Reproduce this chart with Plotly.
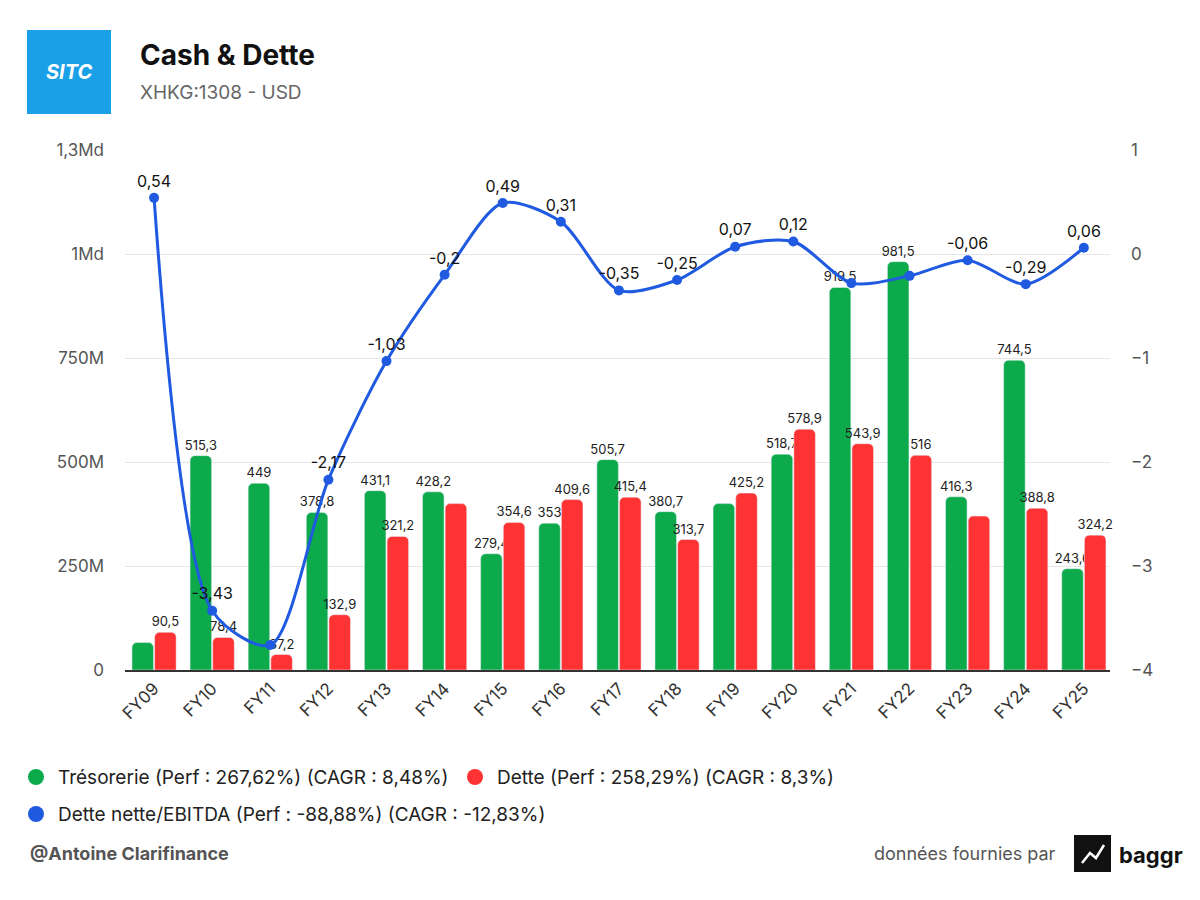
import plotly.graph_objects as go

years = ["FY09", "FY10", "FY11", "FY12", "FY13", "FY14", "FY15", "FY16", "FY17",
         "FY18", "FY19", "FY20", "FY21", "FY22", "FY23", "FY24", "FY25"]
tresorerie = [66, 515.3, 449, 378.8, 431.1, 428.2, 279.4, 353, 505.7,
              380.7, 400, 518.7, 919.5, 981.5, 416.3, 744.5, 243.6]
tres_labels = ["", "515,3", "449", "378,8", "431,1", "428,2", "279,4", "353", "505,7",
               "380,7", "", "518,7", "919,5", "981,5", "416,3", "744,5", "243,6"]
dette = [90.5, 78.4, 37.2, 132.9, 321.2, 400, 354.6, 409.6, 415.4,
         313.7, 425.2, 578.9, 543.9, 516, 370, 388.8, 324.2]
dette_labels = ["90,5", "78,4", "37,2", "132,9", "321,2", "", "354,6", "409,6", "415,4",
                "313,7", "425,2", "578,9", "543,9", "516", "", "388,8", "324,2"]
ratio = [0.54, -3.43, -3.76, -2.17, -1.03, -0.2, 0.49, 0.31, -0.35,
         -0.25, 0.07, 0.12, -0.28, -0.21, -0.06, -0.29, 0.06]
ratio_labels = ["0,54", "-3,43", "", "-2,17", "-1,03", "-0,2", "0,49", "0,31", "-0,35",
                "-0,25", "0,07", "0,12", "", "", "-0,06", "-0,29", "0,06"]
left_ticks = [0, 250, 500, 750, 1000, 1250]
left_tick_text = ["0", "250M", "500M", "750M", "1Md", "1,3Md"]
right_ticks = [-4, -3, -2, -1, 0, 1]
legend_items = [("Trésorerie (Perf : 267,62%) (CAGR : 8,48%)", 28, 777),
                ("Dette (Perf : 258,29%) (CAGR : 8,3%)", 467, 777),
                ("Dette nette/EBITDA (Perf : -88,88%) (CAGR : -12,83%)", 28, 814)]

green = "#0daa4c"
red = "#ff3333"
blue = "#1f5ae0"
font = "Inter"

# plot area in target pixels; page is drawn with an 8px offset
OFF = 8
L, R, T, B = 125, 1110, 150, 670


def px(x):
    return (x - L) / (R - L)


def py(y):
    return (B - y) / (B - T)


def note(x, y, text, size, color, xanchor="left"):
    fig.add_annotation(xref="paper", yref="paper", x=px(x), y=py(y), text=text,
                       showarrow=False, xanchor=xanchor, yanchor="middle",
                       font=dict(size=size, color=color))


fig = go.Figure()
fig.add_trace(go.Bar(x=years, y=tresorerie, text=tres_labels, textposition="outside",
                     marker_color=green, cliponaxis=False, constraintext="none",
                     textfont=dict(size=13, color="#222")))
fig.add_trace(go.Bar(x=years, y=dette, text=dette_labels, textposition="outside",
                     marker_color=red, cliponaxis=False, constraintext="none",
                     textfont=dict(size=13, color="#222")))
fig.add_trace(go.Scatter(x=years, y=ratio, yaxis="y2", mode="lines+markers+text",
                         line=dict(color=blue, width=3, shape="spline", smoothing=0.8),
                         marker=dict(size=10, color=blue), text=ratio_labels,
                         textposition="top center", textfont=dict(size=16, color="#111"),
                         cliponaxis=False))

fig.update_layout(
    width=1200, height=900, plot_bgcolor="white", paper_bgcolor="white",
    font=dict(family=font, size=15, color="#333"), showlegend=False,
    margin=dict(l=L - OFF, r=1200 - R + OFF, t=T - OFF, b=900 - B + OFF, autoexpand=False),
    bargap=0.22, bargroupgap=0.05, barcornerradius=5,
    xaxis=dict(range=[-0.5, 16.45], tickangle=-45, showgrid=False, showline=True,
               linecolor="#333", linewidth=2, ticks="", automargin=False,
               tickfont=dict(size=17, color="#333")),
    yaxis=dict(range=[0, 1250], tickvals=left_ticks, ticktext=left_tick_text,
               automargin=False, gridcolor="#e6e6e6", zeroline=False, ticklabelstandoff=20,
               tickfont=dict(size=17, color="#555")),
    yaxis2=dict(range=[-4, 1], overlaying="y", side="right", tickvals=right_ticks,
                showgrid=False, zeroline=False, ticklabelstandoff=20, automargin=False,
                tickfont=dict(size=17, color="#555")),
)

# custom legend
for (label, x, y), col in zip(legend_items, [green, red, blue]):
    fig.add_shape(type="circle", xref="paper", yref="paper", x0=px(x), x1=px(x + 16),
                  y0=py(y + 8), y1=py(y - 8), fillcolor=col, line_width=0)
    note(x + 28, y, label, 19, "#222")

# logo block
fig.add_shape(type="rect", xref="paper", yref="paper", x0=px(27), x1=px(111),
              y0=py(114), y1=py(30), fillcolor="#1aa0e6", line_width=0, layer="above")
note(69, 72, "<b><i>SITC</i></b>", 20, "white", "center")
note(138, 55, "<b>Cash & Dette</b>", 28, "#111")
note(138, 93, "XHKG:1308 - USD", 19, "#666")
note(28, 853, "<b>@Antoine Clarifinance</b>", 18, "#555")
note(1058, 853, "données fournies par", 18, "#555", "right")
fig.add_shape(type="rect", xref="paper", yref="paper", x0=px(1074), x1=px(1111),
              y0=py(872), y1=py(835), fillcolor="#111", line_width=0)
fig.add_shape(type="path", xref="paper", yref="paper", line=dict(color="white", width=2.5),
              path=f"M {px(1082)} {py(863)} L {px(1090)} {py(853)} L {px(1096)} {py(858)} L {px(1104)} {py(845)}")
note(1117, 855, "<b>baggr</b>", 22, "#111")

fig.write_html("out.html")
